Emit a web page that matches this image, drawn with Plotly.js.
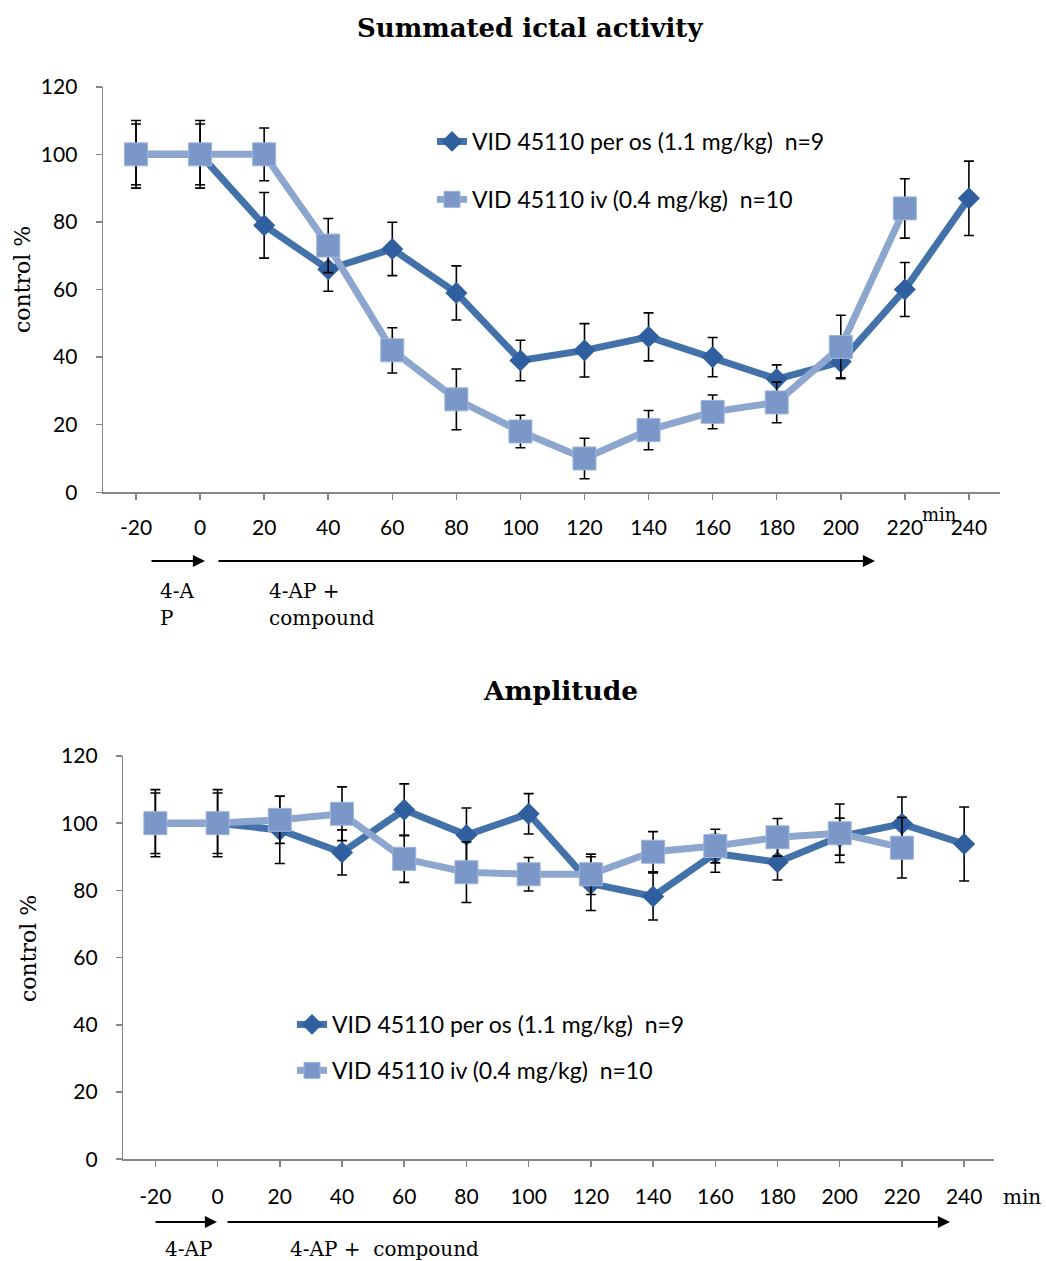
<!DOCTYPE html>
<html>
<head>
<meta charset="utf-8">
<script src="https://cdn.plot.ly/plotly-3.0.1.min.js"></script>
<style>html,body{margin:0;padding:0;background:#fff;}#chart{width:1046px;height:1261px;}</style>
</head>
<body>
<div id="chart"></div>
<script>
// ---- data ----
var minutes = [-20, 0, 20, 40, 60, 80, 100, 120, 140, 160, 180, 200, 220, 240];
var tickLabels = ['-20','0','20','40','60','80','100','120','140','160','180','200','220','240'];
var seriesNames = ['VID 45110 per os (1.1 mg/kg)  n=9', 'VID 45110 iv (0.4 mg/kg)  n=10'];

var ictalPerOs    = [100, 100, 79, 66, 72, 59, 39, 42, 46, 40, 33.5, 38.6, 60, 87];
var ictalPerOsErr = [10, 10, 9.7, 6.5, 7.9, 8, 6, 7.9, 7.1, 5.8, 4.2, 4.7, 8, 11];
var ictalIv       = [100, 100, 100, 73, 42, 27.5, 18, 10, 18.4, 23.8, 26.6, 43, 84, null];
var ictalIvErr    = [9, 9, 7.8, 8, 6.7, 9, 4.8, 6, 5.8, 5, 6, 9.4, 8.8, null];

var ampPerOs    = [100, 100, 98, 91.3, 104, 96.5, 102.8, 82, 78.2, 91, 88.4, 96, 99.8, 93.8];
var ampPerOsErr = [10, 10, 10, 6.7, 7.7, 8, 6, 8, 7, 5.6, 5.3, 5.5, 8, 11];
var ampIv       = [100, 100, 101, 102.8, 89.4, 85.4, 84.8, 84.8, 91.5, 93.2, 95.8, 97, 92.7, null];
var ampIvErr    = [9, 9, 7, 8, 7, 9, 5, 6, 6, 5, 5.6, 8.7, 9, null];

var yTicks = [0, 20, 40, 60, 80, 100, 120];

// ---- styles ----
var darkLine = '#4371A9', darkMarker = '#2F5F9E';
var lightLine = '#8DA6CE', lightMarker = '#7A97C8';
var tickFont = {family: 'Lato, "Open Sans", sans-serif', size: 21, color: '#000'};
var serif = '"DejaVu Serif", "Liberation Serif", serif';

function darkTrace(y, err, xa, ya, leg) {
  return {
    x: minutes, y: y, type: 'scatter', mode: 'lines+markers', name: seriesNames[0],
    xaxis: xa, yaxis: ya, legend: leg, legendgroup: leg + 'a',
    line: {color: darkLine, width: 7},
    marker: {symbol: 'diamond', size: 17, color: darkMarker},
    error_y: {type: 'data', array: err, visible: true, color: '#000', thickness: 1.6, width: 5}
  };
}
function lightTrace(y, err, xa, ya, leg) {
  return {
    x: minutes, y: y, type: 'scatter', mode: 'lines+markers', name: seriesNames[1],
    xaxis: xa, yaxis: ya, legend: leg, legendgroup: leg + 'b',
    line: {color: lightLine, width: 7},
    marker: {symbol: 'square', size: 23, color: lightMarker, line: {color: '#9DB5DC', width: 1}},
    error_y: {type: 'data', array: err, visible: true, color: '#000', thickness: 1.6, width: 5}
  };
}

var data = [
  darkTrace(ictalPerOs, ictalPerOsErr, 'x', 'y', 'legend'),
  lightTrace(ictalIv, ictalIvErr, 'x', 'y', 'legend'),
  darkTrace(ampPerOs, ampPerOsErr, 'x2', 'y2', 'legend2'),
  lightTrace(ampIv, ampIvErr, 'x2', 'y2', 'legend2')
];

function xAxis(domain, anchor, standoff) {
  return {
    domain: domain, anchor: anchor, range: [-30.3, 249.7],
    tickmode: 'array', tickvals: minutes, ticktext: tickLabels,
    showline: true, linecolor: '#868686', linewidth: 1.5,
    ticks: 'outside', ticklen: 6, tickcolor: '#868686', tickwidth: 1.5,
    showgrid: false, zeroline: false, tickfont: tickFont, ticklabelstandoff: standoff
  };
}
function yAxis(domain, anchor) {
  return {
    domain: domain, anchor: anchor, range: [0, 120],
    tickmode: 'array', tickvals: yTicks,
    showline: true, linecolor: '#868686', linewidth: 1.5,
    ticks: 'outside', ticklen: 6, tickcolor: '#868686', tickwidth: 1.5,
    showgrid: false, zeroline: false, tickfont: tickFont, ticklabelstandoff: 14
  };
}

function px(x) { return x / 1046; }
function py(y) { return 1 - y / 1261; }

var textFont = {family: serif, size: 20, color: '#000'};
function label(x, y, text, opts) {
  var a = {xref: 'paper', yref: 'paper', x: px(x), y: py(y), text: text, showarrow: false,
           xanchor: 'left', yanchor: 'middle', font: textFont};
  for (var k in opts) a[k] = opts[k];
  return a;
}
function arrow(x0, x1, y) {
  return {xref: 'paper', yref: 'paper', x: px(x1), y: py(y), ax: -(x1 - x0), ay: 0,
          text: '', showarrow: true, arrowhead: 2, arrowsize: 1.1, arrowwidth: 2.2, arrowcolor: '#000'};
}

var legendFont = {family: 'Lato, "Open Sans", sans-serif', size: 23, color: '#000'};

var layout = {
  width: 1046, height: 1261,
  margin: {l: 0, r: 0, t: 0, b: 0},
  paper_bgcolor: '#fff', plot_bgcolor: '#fff',
  xaxis: xAxis([0.0985, 0.956], 'y', 10),
  yaxis: yAxis([0.6096, 0.9312], 'x'),
  xaxis2: xAxis([0.1179, 0.9506], 'y2', 12),
  yaxis2: yAxis([0.0807, 0.4005], 'x2'),
  legend: {x: px(432), y: py(120), xanchor: 'left', yanchor: 'top', bgcolor: 'rgba(0,0,0,0)',
           font: legendFont, traceorder: 'grouped', tracegroupgap: 25, itemwidth: 30},
  legend2: {x: px(292), y: py(1003), xanchor: 'left', yanchor: 'top', bgcolor: 'rgba(0,0,0,0)',
           font: legendFont, traceorder: 'grouped', tracegroupgap: 13, itemwidth: 30},
  annotations: [
    label(530, 28, '<b>Summated ictal activity</b>', {xanchor: 'center', font: {family: serif, size: 26, color: '#000'}}),
    label(560, 690, '<b>Amplitude</b>', {xanchor: 'center', font: {family: serif, size: 26.5, color: '#000'}}),
    label(22, 280, 'control %', {xanchor: 'center', textangle: -90, font: {family: serif, size: 22, color: '#000'}}),
    label(28, 949, 'control %', {xanchor: 'center', textangle: -90, font: {family: serif, size: 22, color: '#000'}}),
    label(939, 514, 'min', {xanchor: 'center', font: {family: serif, size: 18, color: '#000'}}),
    label(1022, 1197, 'min', {xanchor: 'center'}),
    arrow(150, 205, 561),
    arrow(217, 875, 561),
    label(158, 591, '4-A'),
    label(158, 618, 'P'),
    label(267, 591, '4-AP +'),
    label(267, 618, 'compound'),
    arrow(154, 217, 1222),
    arrow(226, 950, 1222),
    label(163, 1249, '4-AP'),
    label(288, 1249, '4-AP +  compound')
  ],
  showlegend: true
};

Plotly.newPlot('chart', data, layout, {displayModeBar: false, staticPlot: true});
</script>
</body>
</html>
